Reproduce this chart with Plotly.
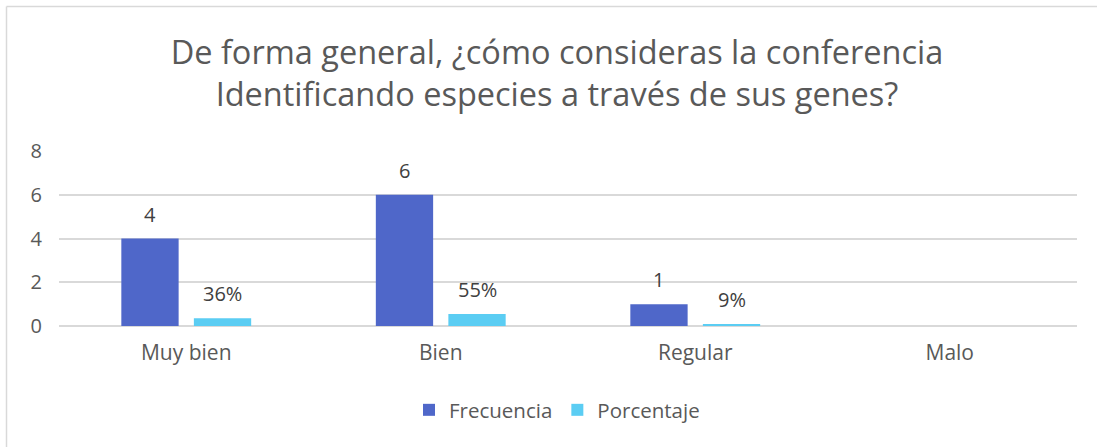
import plotly.graph_objects as go

categories = ["Muy bien", "Bien", "Regular", "Malo"]
frecuencia = [4, 6, 1, None]
porcentaje = [0.36, 0.55, 0.09, None]
frecuencia_labels = ["4", "6", "1", ""]
porcentaje_labels = ["36%", "55%", "9%", ""]
y_ticks = [0, 2, 4, 6, 8]

TXT = "#595959"
FONT = "'Open Sans', sans-serif"

W, H = 1097, 447
L, R, T, B = 59, 20, 151, 121
pw, ph = W - L - R, H - T - B


def px_x(x):
    return (x - L) / pw


def px_y(y):
    return (H - B - y) / ph


fig = go.Figure()
fig.add_trace(go.Bar(
    name="Frecuencia", x=categories, y=frecuencia,
    marker=dict(color="#4F67C9", line=dict(width=0)),
))
fig.add_trace(go.Bar(
    name="Porcentaje", x=categories, y=porcentaje,
    marker=dict(color="#5BCDF3", line=dict(width=0)),
))

# data labels
for series, labels, xs in ((frecuencia, frecuencia_labels, -36.5), (porcentaje, porcentaje_labels, 36.5)):
    for c, v, lab in zip(categories, series, labels):
        if v is None or not lab:
            continue
        fig.add_annotation(x=c, y=v, xref="x", yref="y", text=lab, showarrow=False,
                           xshift=xs, yshift=9, yanchor="bottom", xanchor="center",
                           font=dict(size=20, color="#404040", family=FONT))

border = dict(color="#D9D9D9", width=1.5)
fig.update_layout(
    width=W, height=H,
    margin=dict(l=L, r=R, t=T, b=B, autoexpand=False),
    paper_bgcolor="white", plot_bgcolor="white",
    barmode="group", bargap=0.43, bargroupgap=0.21,
    font=dict(family=FONT, color=TXT, size=20),
    title=dict(
        text="De forma general, ¿cómo consideras la conferencia<br>Identificando especies a través de sus genes?",
        x=px_x(557), xanchor="center", xref="paper",
        y=1 - 64 / H, yanchor="middle",
        font=dict(size=32.5, color=TXT, family=FONT),
    ),
    xaxis=dict(showline=False, ticks="", tickfont=dict(size=21, color=TXT),
               automargin=False, ticklabelstandoff=12),
    yaxis=dict(range=[0, 8], tickvals=y_ticks, showgrid=True, gridcolor="#D9D9D9",
               gridwidth=1.5, zeroline=True, zerolinecolor="#D9D9D9", zerolinewidth=1.5,
               tickfont=dict(size=20, color=TXT), ticklabelstandoff=16, automargin=False),
    legend=dict(orientation="h", x=px_x(557), xanchor="center", y=px_y(410), yanchor="middle",
                font=dict(size=20.5, color=TXT), traceorder="normal"),
    showlegend=True,
    shapes=[
        dict(type="line", xref="paper", yref="paper", x0=px_x(6.5), x1=px_x(1200),
             y0=px_y(6.5), y1=px_y(6.5), line=border, layer="below"),
        dict(type="line", xref="paper", yref="paper", x0=px_x(6.5), x1=px_x(6.5),
             y0=px_y(6.5), y1=px_y(600), line=border, layer="below"),
    ],
)

fig.write_html("out.html", config={"displayModeBar": False},
               post_script="document.body.style.margin='0';document.body.style.overflow='hidden';")
